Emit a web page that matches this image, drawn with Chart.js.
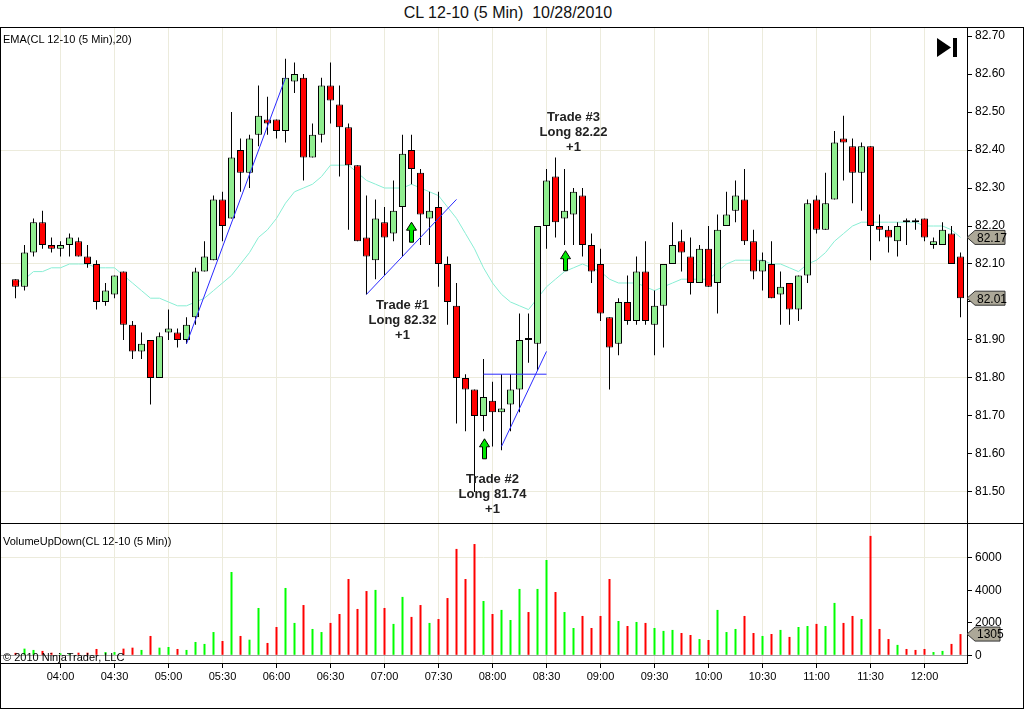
<!DOCTYPE html>
<html>
<head>
<meta charset="utf-8">
<title>CL 12-10 (5 Min) 10/28/2010</title>
<script src="https://cdn.jsdelivr.net/npm/chart.js@4.4.0/dist/chart.umd.min.js"></script>
<style>
  html, body { margin: 0; padding: 0; background: #fff; }
  body { width: 1024px; height: 709px; position: relative; overflow: hidden; font-family: "Liberation Sans", Arial, sans-serif; }
  canvas { position: absolute; left: 0; }
  #priceChart { top: 27px; }
  #volumeChart { top: 523px; }
  .frame { position: absolute; left: 0; top: 27px; width: 1024px; height: 682px; box-sizing: border-box; border: 1px solid #000; pointer-events: none; }
  .sep { position: absolute; left: 0; top: 523px; width: 1024px; height: 1px; background: #000; }
  .label { position: absolute; left: 3px; font-size: 11px; line-height: 13px; color: #000; white-space: pre; }
  #title { position: absolute; top: 4px; left: 0; width: 1016px; text-align: center; font-size: 16px; line-height: 18px; color: #111; white-space: pre; }
</style>
</head>
<body>
<div id="title">CL 12-10 (5 Min)  10/28/2010</div>
<canvas id="priceChart" width="1024" height="496"></canvas>
<canvas id="volumeChart" width="1024" height="186"></canvas>
<div class="frame"></div>
<div class="sep"></div>
<div class="label" style="top:33px">EMA(CL 12-10 (5 Min),20)</div>
<div class="label" style="top:535px">VolumeUpDown(CL 12-10 (5 Min))</div>
<div class="label" style="top:651px">© 2010 NinjaTrader, LLC</div>
<script>
// bar times (5 min)
const times = [
  "03:35", "03:40", "03:45", "03:50", "03:55",
  "04:00", "04:05", "04:10", "04:15", "04:20", "04:25", "04:30", "04:35", "04:40", "04:45", "04:50", "04:55",
  "05:00", "05:05", "05:10", "05:15", "05:20", "05:25", "05:30", "05:35", "05:40", "05:45", "05:50", "05:55",
  "06:00", "06:05", "06:10", "06:15", "06:20", "06:25", "06:30", "06:35", "06:40", "06:45", "06:50", "06:55",
  "07:00", "07:05", "07:10", "07:15", "07:20", "07:25", "07:30", "07:35", "07:40", "07:45", "07:50", "07:55",
  "08:00", "08:05", "08:10", "08:15", "08:20", "08:25", "08:30", "08:35", "08:40", "08:45", "08:50", "08:55",
  "09:00", "09:05", "09:10", "09:15", "09:20", "09:25", "09:30", "09:35", "09:40", "09:45", "09:50", "09:55",
  "10:00", "10:05", "10:10", "10:15", "10:20", "10:25", "10:30", "10:35", "10:40", "10:45", "10:50", "10:55",
  "11:00", "11:05", "11:10", "11:15", "11:20", "11:25", "11:30", "11:35", "11:40", "11:45", "11:50", "11:55",
  "12:00", "12:05", "12:10", "12:15", "12:20",
];

const open = [
  82.06, 82.04, 82.13, 82.21, 82.15, 82.14, 82.15, 82.16, 82.12, 82.10,
  82.00, 82.02, 82.08, 81.94, 81.87, 81.90, 81.80, 81.92, 81.92, 81.90,
  81.96, 82.08, 82.11, 82.27, 82.22, 82.40, 82.34, 82.44, 82.48, 82.48,
  82.45, 82.58, 82.59, 82.38, 82.44, 82.57, 82.52, 82.46, 82.36, 82.17,
  82.11, 82.21, 82.18, 82.25, 82.40, 82.34, 82.22, 82.25, 82.10, 81.99,
  81.80, 81.77, 81.70, 81.74, 81.71, 81.73, 81.77, 81.90, 81.89, 82.20,
  82.33, 82.22, 82.23, 82.28, 82.15, 82.10, 81.96, 81.89, 82.00, 81.95,
  82.08, 81.94, 81.99, 82.10, 82.16, 82.12, 82.05, 82.14, 82.05, 82.20,
  82.24, 82.27, 82.16, 82.08, 82.10, 82.02, 82.05, 81.98, 82.07, 82.27,
  82.19, 82.27, 82.43, 82.41, 82.34, 82.41, 82.20, 82.19, 82.16, 82.21,
  82.21, 82.22, 82.15, 82.15, 82.18, 82.12,
];
const high = [
  82.06, 82.15, 82.22, 82.24, 82.17, 82.16, 82.18, 82.17, 82.15, 82.11,
  82.05, 82.07, 82.08, 81.95, 81.92, 81.90, 81.92, 81.98, 81.93, 81.96,
  82.09, 82.16, 82.28, 82.29, 82.50, 82.43, 82.44, 82.57, 82.54, 82.48,
  82.64, 82.63, 82.60, 82.47, 82.59, 82.63, 82.57, 82.47, 82.36, 82.28,
  82.27, 82.25, 82.32, 82.44, 82.44, 82.35, 82.29, 82.29, 82.12, 82.05,
  81.81, 81.77, 81.85, 81.79, 81.81, 81.81, 81.97, 81.97, 82.20, 82.35,
  82.38, 82.35, 82.30, 82.30, 82.18, 82.14, 81.96, 82.01, 82.07, 82.12,
  82.16, 82.03, 82.10, 82.21, 82.19, 82.17, 82.15, 82.20, 82.23, 82.29,
  82.32, 82.35, 82.19, 82.13, 82.16, 82.08, 82.05, 82.07, 82.27, 82.28,
  82.34, 82.45, 82.49, 82.43, 82.42, 82.41, 82.23, 82.20, 82.21, 82.22,
  82.22, 82.22, 82.17, 82.21, 82.20, 82.13,
];
const low = [
  82.01, 82.03, 82.12, 82.14, 82.13, 82.12, 82.12, 82.12, 82.09, 81.98,
  81.99, 82.01, 81.90, 81.85, 81.85, 81.73, 81.80, 81.90, 81.88, 81.89,
  81.94, 82.08, 82.11, 82.16, 82.22, 82.29, 82.30, 82.41, 82.44, 82.43,
  82.42, 82.55, 82.32, 82.38, 82.42, 82.47, 82.33, 82.19, 82.16, 82.02,
  82.06, 82.07, 82.16, 82.12, 82.31, 82.15, 82.15, 82.04, 81.94, 81.68,
  81.66, 81.50, 81.66, 81.62, 81.61, 81.66, 81.71, 81.84, 81.82, 82.14,
  82.17, 82.15, 82.15, 82.12, 82.05, 81.95, 81.77, 81.86, 81.94, 81.94,
  81.94, 81.86, 81.88, 82.10, 82.08, 82.02, 82.05, 82.04, 81.97, 82.20,
  82.21, 82.15, 82.06, 82.03, 82.01, 81.94, 81.94, 81.95, 82.05, 82.18,
  82.19, 82.27, 82.32, 82.26, 82.24, 82.11, 82.16, 82.13, 82.12, 82.15,
  82.19, 82.16, 82.14, 82.15, 82.10, 81.96,
];
const close = [
  82.04, 82.13, 82.21, 82.15, 82.14, 82.15, 82.17, 82.12, 82.10, 82.00,
  82.03, 82.07, 81.94, 81.87, 81.89, 81.80, 81.91, 81.93, 81.90, 81.94,
  82.08, 82.12, 82.27, 82.20, 82.38, 82.34, 82.43, 82.49, 82.47, 82.45,
  82.59, 82.60, 82.38, 82.44, 82.57, 82.53, 82.46, 82.36, 82.16, 82.12,
  82.22, 82.17, 82.24, 82.39, 82.35, 82.23, 82.24, 82.10, 82.00, 81.80,
  81.77, 81.70, 81.75, 81.71, 81.72, 81.77, 81.90, 81.90, 82.20, 82.32,
  82.21, 82.24, 82.29, 82.15, 82.08, 81.97, 81.88, 82.00, 81.95, 82.08,
  81.95, 81.99, 82.10, 82.15, 82.13, 82.05, 82.14, 82.04, 82.19, 82.23,
  82.28, 82.16, 82.08, 82.11, 82.01, 82.04, 81.98, 82.07, 82.26, 82.19,
  82.26, 82.42, 82.42, 82.34, 82.41, 82.20, 82.19, 82.17, 82.20, 82.21,
  82.21, 82.17, 82.16, 82.19, 82.10, 82.01,
];
const volume = [
  150, 410, 330, 270, 160, 120, 100, 160, 160, 390,
  200, 200, 410, 470, 330, 1190, 470, 510, 390, 330,
  820, 700, 1430, 880, 5120, 1190, 960, 2910, 760, 1740,
  4140, 1990, 3090, 1620, 1430, 1990, 2540, 4690, 2850, 3950,
  4020, 2910, 1930, 3590, 2360, 3090, 1990, 2230, 3520, 6540,
  4690, 6840, 3340, 2540, 2790, 2170, 4080, 2660, 4080, 5860,
  3890, 2660, 1680, 2420, 1680, 2420, 4690, 2110, 1800, 2050,
  1990, 1680, 1500, 1560, 1370, 1250, 1000, 940, 2790, 1430,
  1620, 2420, 1370, 1190, 1310, 1560, 1130, 1740, 1800, 1930,
  1800, 3220, 1990, 2420, 2230, 7340, 1620, 1000, 640, 390,
  330, 390, 200, 270, 700, 1305,
];
// EMA(20)
const ema20 = [
  82.05, 82.06, 82.08, 82.08, 82.09, 82.09, 82.10, 82.10, 82.10, 82.09,
  82.09, 82.09, 82.07, 82.05, 82.03, 82.01, 82.01, 82.00, 81.99, 81.99,
  82.00, 82.01, 82.03, 82.05, 82.07, 82.10, 82.13, 82.17, 82.19, 82.22,
  82.26, 82.29, 82.30, 82.31, 82.33, 82.36, 82.36, 82.36, 82.34, 82.32,
  82.31, 82.30, 82.30, 82.30, 82.31, 82.30, 82.29, 82.28, 82.25, 82.22,
  82.18, 82.14, 82.09, 82.05, 82.02, 82.00, 81.99, 81.98, 82.01, 82.04,
  82.06, 82.08, 82.09, 82.10, 82.09, 82.08, 82.06, 82.05, 82.05, 82.05,
  82.04, 82.03, 82.04, 82.05, 82.06, 82.06, 82.06, 82.06, 82.08, 82.10,
  82.11, 82.11, 82.11, 82.11, 82.10, 82.10, 82.09, 82.08, 82.10, 82.11,
  82.13, 82.16, 82.18, 82.20, 82.21, 82.21, 82.21, 82.21, 82.21, 82.21,
  82.21, 82.20, 82.20, 82.20, 82.19, 82.17,
];

const priceTicks = [81.5, 81.6, 81.7, 81.8, 81.9, 82.0, 82.1, 82.2, 82.3, 82.4, 82.5, 82.6, 82.7];
const priceGridLevels = [81.5, 81.8, 82.1, 82.4];
const volumeTicks = [0, 2000, 4000, 6000];

// drawn trend lines: [startBar, startPrice, endBar, endPrice]
const trendLines = [
  [19, 81.89, 30, 82.59],
  [39, 82.02, 49, 82.27],
  [52, 81.81, 59, 81.81],
  [54, 81.62, 59, 81.87],
];

// entry arrows (bar, price of arrow tip)
const arrowBars = [44, 52, 61];
const arrowTips = [82.21, 81.64, 82.135];

// trade notes (bar, price of first line)
const tradeBars = [43, 53, 62];
const tradePrices = [81.99, 81.534, 82.487];
const tradeNotes = [
  ["Trade #1", "Long 82.32", "+1"],
  ["Trade #2", "Long 81.74", "+1"],
  ["Trade #3", "Long 82.22", "+1"],
];

const FONT = '"Liberation Sans", Arial, sans-serif';
const GRID = "#ecebdc";
const xMin = -1.7222;
const xMax = 105.7222;

const xTickBars = times
  .map((t, i) => (t.endsWith(":00") || t.endsWith(":30") ? i : -1))
  .filter((i) => i >= 0);

const upCol = close.map((c, i) => c > open[i]);

function setXTicks(scale) {
  scale.ticks = xTickBars.map((v) => ({ value: v }));
}

function fixWidth(scale) {
  scale.width = 57;
  scale.paddingTop = 0;
  scale.paddingBottom = 0;
}

// tag on the price axis
function drawTag(ctx, x, y, text, w) {
  ctx.save();
  ctx.beginPath();
  ctx.moveTo(x, y);
  ctx.lineTo(x + 8, y - 7);
  ctx.lineTo(x + w, y - 7);
  ctx.lineTo(x + w, y + 7);
  ctx.lineTo(x + 8, y + 7);
  ctx.closePath();
  ctx.fillStyle = "#aca898";
  ctx.fill();
  ctx.strokeStyle = "#333";
  ctx.lineWidth = 1;
  ctx.stroke();
  ctx.fillStyle = "#000";
  ctx.font = "12px " + FONT;
  ctx.textAlign = "left";
  ctx.textBaseline = "middle";
  ctx.fillText(text, x + 10, y + 1);
  ctx.restore();
}

const priceExtras = {
  id: "priceExtras",
  afterDatasetsDraw(chart) {
    const ctx = chart.ctx;
    const xs = chart.scales.x;
    const ys = chart.scales.y;

    // green entry arrows
    arrowBars.forEach((b, i) => {
      const x = Math.round(xs.getPixelForValue(b)) + 0.5;
      const y = ys.getPixelForValue(arrowTips[i]);
      ctx.save();
      ctx.beginPath();
      ctx.moveTo(x, y);
      ctx.lineTo(x + 5, y + 8);
      ctx.lineTo(x + 2, y + 8);
      ctx.lineTo(x + 2, y + 20);
      ctx.lineTo(x - 2, y + 20);
      ctx.lineTo(x - 2, y + 8);
      ctx.lineTo(x - 5, y + 8);
      ctx.closePath();
      ctx.fillStyle = "#00e600";
      ctx.fill();
      ctx.strokeStyle = "#000";
      ctx.lineWidth = 1;
      ctx.stroke();
      ctx.restore();
    });

    // trade notes
    ctx.save();
    ctx.font = "bold 13px " + FONT;
    ctx.fillStyle = "#222";
    ctx.textAlign = "center";
    ctx.textBaseline = "middle";
    tradeBars.forEach((b, i) => {
      const x = xs.getPixelForValue(b);
      const y = ys.getPixelForValue(tradePrices[i]);
      tradeNotes[i].forEach((line, k) => {
        ctx.fillText(line, x, y + k * 15);
      });
    });
    ctx.restore();
  },
  afterDraw(chart) {
    const ctx = chart.ctx;
    const ys = chart.scales.y;
    const last = close.length - 1;
    drawTag(ctx, ys.left, ys.getPixelForValue(ema20[last]), ema20[last].toFixed(2), 38);
    drawTag(ctx, ys.left, ys.getPixelForValue(close[last]), close[last].toFixed(2), 38);

    // "go to last bar" button
    ctx.save();
    ctx.fillStyle = "#000";
    ctx.beginPath();
    ctx.moveTo(937, 11);
    ctx.lineTo(951, 20.5);
    ctx.lineTo(937, 30);
    ctx.closePath();
    ctx.fill();
    ctx.fillRect(953, 11, 4, 19);
    ctx.restore();
  },
};

const volumeExtras = {
  id: "volumeExtras",
  afterDraw(chart) {
    const ys = chart.scales.y;
    const last = volume.length - 1;
    drawTag(chart.ctx, ys.left, ys.getPixelForValue(volume[last]), String(volume[last]), 33);
  },
};

// price panel
new Chart(document.getElementById("priceChart"), {
  type: "bar",
  data: {
    datasets: [
      {
        type: "line",
        data: ema20.map((v, i) => ({ x: i, y: v })),
        borderColor: "#88eed4",
        borderWidth: 1,
        pointRadius: 0,
        tension: 0,
        order: 5,
      },
      {
        data: low.map((l, i) => ({ x: i, y: [l, high[i]] })),
        backgroundColor: "#000",
        borderWidth: 0,
        barThickness: 1,
        inflateAmount: 0,
        grouped: false,
        order: 4,
      },
      {
        data: open.map((o, i) => ({ x: i, y: [o, close[i]] })),
        backgroundColor: upCol.map((u) => (u ? "#90ee90" : "#ff0000")),
        borderColor: "#000",
        borderWidth: 1,
        borderSkipped: false,
        barThickness: 7,
        minBarLength: 2,
        inflateAmount: 0,
        grouped: false,
        order: 3,
      },
      ...trendLines.map((t) => ({
        type: "line",
        data: [
          { x: t[0], y: t[1] },
          { x: t[2], y: t[3] },
        ],
        borderColor: "#2a2aff",
        borderWidth: 1,
        pointRadius: 0,
        order: 1,
      })),
    ],
  },
  options: {
    responsive: false,
    animation: false,
    layout: { padding: 0 },
    plugins: { legend: { display: false }, tooltip: { enabled: false } },
    scales: {
      x: {
        type: "linear",
        min: xMin,
        max: xMax,
        offset: false,
        afterBuildTicks: setXTicks,
        afterFit: (scale) => {
          scale.height = 0;
          scale.paddingLeft = 0;
          scale.paddingRight = 0;
        },
        ticks: { display: false },
        grid: { color: GRID, offset: false, drawTicks: false },
        border: { display: false },
      },
      y: {
        position: "right",
        min: 81.4184,
        max: 82.7237,
        afterBuildTicks: (scale) => {
          scale.ticks = priceTicks.map((v) => ({ value: v }));
        },
        afterFit: fixWidth,
        ticks: {
          color: "#000",
          padding: 3,
          font: { family: FONT, size: 12 },
          callback: (v) => v.toFixed(2),
        },
        grid: {
          color: (c) =>
            priceGridLevels.some((g) => Math.abs(g - c.tick.value) < 1e-6) ? GRID : "rgba(0,0,0,0)",
          tickColor: "#000",
          tickLength: 5,
        },
        border: { display: true, color: "#000" },
      },
    },
  },
  plugins: [priceExtras],
});

// volume panel
new Chart(document.getElementById("volumeChart"), {
  type: "bar",
  data: {
    datasets: [
      {
        data: volume.map((v, i) => ({ x: i, y: v })),
        backgroundColor: upCol.map((u) => (u ? "#00ff00" : "#ff0000")),
        borderWidth: 0,
        barThickness: 2,
        inflateAmount: 0,
      },
    ],
  },
  options: {
    responsive: false,
    animation: false,
    layout: { padding: 0 },
    plugins: { legend: { display: false }, tooltip: { enabled: false } },
    scales: {
      x: {
        type: "linear",
        min: xMin,
        max: xMax,
        offset: false,
        afterBuildTicks: setXTicks,
        afterFit: (scale) => {
          scale.height = 46;
          scale.paddingLeft = 0;
          scale.paddingRight = 0;
        },
        ticks: {
          color: "#000",
          padding: 2,
          maxRotation: 0,
          autoSkip: false,
          font: { family: FONT, size: 11 },
          callback: (v) => times[v],
        },
        grid: { color: GRID, offset: false, tickColor: "#000", tickLength: 5 },
        border: { display: true, color: "#000" },
      },
      y: {
        position: "right",
        min: -473,
        max: 8133,
        afterBuildTicks: (scale) => {
          scale.ticks = volumeTicks.map((v) => ({ value: v }));
        },
        afterFit: fixWidth,
        ticks: {
          color: "#000",
          padding: 3,
          font: { family: FONT, size: 12 },
          callback: (v) => String(v),
        },
        grid: {
          color: (c) => (c.tick.value === 0 ? "#a0a0a0" : c.tick.value === 6000 ? GRID : "rgba(0,0,0,0)"),
          tickColor: "#000",
          tickLength: 5,
        },
        border: { display: true, color: "#000" },
      },
    },
  },
  plugins: [volumeExtras],
});
</script>
</body>
</html>
